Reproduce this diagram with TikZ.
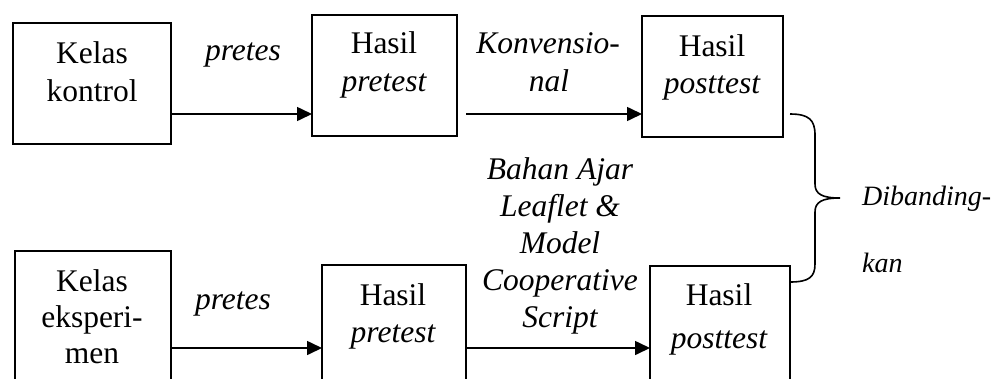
\documentclass[tikz,border=0pt]{standalone}
\usepackage{fontspec}
\setmainfont{Liberation Serif}
\usetikzlibrary{arrows.meta}
\begin{document}
\begin{tikzpicture}[x=1pt,y=-1pt,
  box/.style={draw, line width=1.6pt, rectangle, inner sep=0pt, outer sep=0pt},
  txt/.style={anchor=base, inner sep=0pt, font=\fontsize{31.5}{37}\selectfont},
  itxt/.style={txt, font=\fontsize{31.5}{37}\selectfont\itshape},
  stxt/.style={anchor=base west, inner sep=0pt, font=\fontsize{28}{33}\selectfont\itshape},
  arr/.style={line width=1.6pt, -{Triangle[length=15pt,width=14pt]}},
  brace/.style={line width=1.6pt}]
\useasboundingbox (0,0) rectangle (998,378);
\clip (0,0) rectangle (998,378);

% control group boxes
\node[box, minimum width=158pt, minimum height=121pt] (A) at (92,83.5) {};
\node[box, minimum width=145pt, minimum height=121pt] (B) at (384.5,75.5) {};
\node[box, minimum width=141pt, minimum height=121pt] (C) at (712.5,76.5) {};

% experiment group boxes (run past the lower edge)
\node[box, minimum width=156pt, minimum height=170pt] (D) at (93,336) {};
\node[box, minimum width=144pt, minimum height=156pt] (E) at (394,343) {};
\node[box, minimum width=140pt, minimum height=155pt] (F) at (720,343.5) {};

% box texts
\node[txt] (A1) at (92,63) {Kelas};
\node[txt] (A2) at (92,101) {kontrol};
\node[txt] (B1) at (384,53) {Hasil};
\node[itxt] (B2) at (384,91) {pretest};
\node[txt] (C1) at (712,56) {Hasil};
\node[itxt] (C2) at (712,93) {posttest};
\node[txt] (D1) at (92,291) {Kelas};
\node[txt] (D2) at (92,327) {eksperi-};
\node[txt] (D3) at (92,363) {men};
\node[txt] (E1) at (393,305) {Hasil};
\node[itxt] (E2) at (393,342) {pretest};
\node[txt] (F1) at (719,305) {Hasil};
\node[itxt] (F2) at (719,348) {posttest};

% arrow rows
\coordinate (rowT) at (0,114);
\coordinate (rowB) at (0,348);
\draw[arr] (A.east |- rowT) -- (B.west |- rowT);
\draw[arr] ([xshift=9pt]B.east |- rowT) -- (C.west |- rowT);
\draw[arr] (D.east |- rowB) -- (E.west |- rowB);
\draw[arr] (E.east |- rowB) -- (F.west |- rowB);

% arrow labels
\node[itxt] (p1) at (243,60) {pretes};
\node[itxt] (k1) at (548,53) {Konvensio-};
\node[itxt] (k2) at (549,91) {nal};
\node[itxt] (p2) at (233,309) {pretes};
\node[itxt] (m1) at (560,179) {Bahan Ajar};
\node[itxt] (m2) at (560,216) {Leaflet \&};
\node[itxt] (m3) at (560,253) {Model};
\node[itxt] (m4) at (560,290) {Cooperative};
\node[itxt] (m5) at (560,327) {Script};

% brace joining both posttest results
\coordinate (bt) at (790,114);
\coordinate (bb) at (790,282);
\coordinate (tip) at (840,198);
\draw[brace] (bt) .. controls (809,114) and (815,120) .. (815,135)
  -- (815,184) .. controls (815,194) and (822,198) .. (tip)
  .. controls (822,198) and (815,202) .. (815,212)
  -- (815,264) .. controls (815,277) and (809,282) .. (bb);

\node[stxt] (d1) at (862,205) {Dibanding-};
\node[stxt] (d2) at (862,272) {kan};
\end{tikzpicture}
\end{document}
